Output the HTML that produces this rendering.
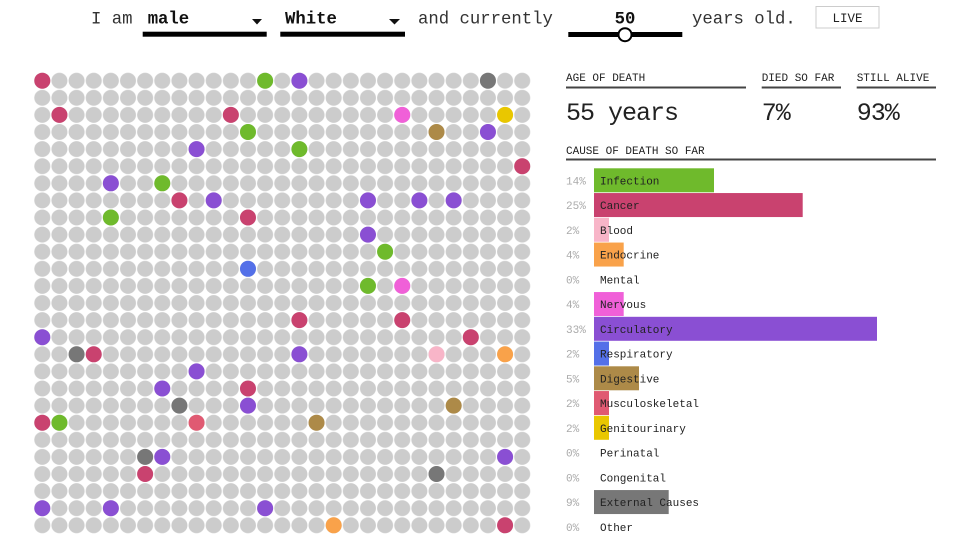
<!DOCTYPE html>
<html>
<head>
<meta charset="utf-8">
<style>
  html,body{margin:0;padding:0;background:#fff;}
  svg{display:block;}
  text{font-family:"Liberation Mono",monospace;}
</style>
</head>
<body>
<svg width="962" height="550" viewBox="0 0 962 550" xmlns="http://www.w3.org/2000/svg">
  <defs>
    <pattern id="dots" patternUnits="userSpaceOnUse" x="33.73" y="72.15" width="17.14" height="17.1">
      <circle cx="8.57" cy="8.55" r="8" fill="#cccccc"/>
    </pattern>
  </defs>
  <rect x="0" y="0" width="962" height="550" fill="#fff"/>

  <!-- Top controls -->
  <text x="91" y="23.3" font-size="17.3" fill="#333">I am</text>
  <text x="147.7" y="23.3" font-size="17.3" font-weight="bold" fill="#111">male</text>
  <polygon points="252,19 262,19 257,24.5" fill="#111"/>
  <rect x="142.7" y="31.7" width="124" height="5" fill="#000"/>
  <text x="285" y="23.3" font-size="17.3" font-weight="bold" fill="#111">White</text>
  <polygon points="389,19 400,19 394.5,24.5" fill="#111"/>
  <rect x="280.3" y="31.7" width="124.7" height="5" fill="#000"/>
  <text x="418" y="23.3" font-size="17.3" fill="#333">and currently</text>
  <text x="625" y="23.3" font-size="17.3" font-weight="bold" fill="#111" text-anchor="middle">50</text>
  <rect x="568.3" y="32" width="114" height="5" fill="#000"/>
  <circle cx="625" cy="34.7" r="6.5" fill="#fff" stroke="#000" stroke-width="2"/>
  <text x="692" y="23.3" font-size="17.3" fill="#333">years old.</text>
  <rect x="816" y="6.5" width="63" height="21.5" fill="#fff" stroke="#ccc" stroke-width="1"/>
  <text x="847.5" y="22" font-size="12.5" fill="#222" text-anchor="middle">LIVE</text>

  <!-- Dot grid -->
  <rect x="33.73" y="72.15" width="497.06" height="461.7" fill="url(#dots)"/>
  <g transform="translate(42.3,80.7)">
    <!-- row 0 -->
    <circle cx="0" cy="0" r="8" fill="#c9426f"/>
    <circle cx="222.82" cy="0" r="8" fill="#6fba2c"/>
    <circle cx="257.1" cy="0" r="8" fill="#8a4fd3"/>
    <circle cx="445.64" cy="0" r="8" fill="#777777"/>
    <!-- row 2 -->
    <circle cx="17.14" cy="34.2" r="8" fill="#c9426f"/>
    <circle cx="188.54" cy="34.2" r="8" fill="#c9426f"/>
    <circle cx="359.94" cy="34.2" r="8" fill="#f060d8"/>
    <circle cx="462.78" cy="34.2" r="8" fill="#e9c700"/>
    <!-- row 3 -->
    <circle cx="205.68" cy="51.3" r="8" fill="#6fba2c"/>
    <circle cx="394.22" cy="51.3" r="8" fill="#ad8a48"/>
    <circle cx="445.64" cy="51.3" r="8" fill="#8a4fd3"/>
    <!-- row 4 -->
    <circle cx="154.26" cy="68.4" r="8" fill="#8a4fd3"/>
    <circle cx="257.1" cy="68.4" r="8" fill="#6fba2c"/>
    <!-- row 5 -->
    <circle cx="479.92" cy="85.5" r="8" fill="#c9426f"/>
    <!-- row 6 -->
    <circle cx="68.56" cy="102.6" r="8" fill="#8a4fd3"/>
    <circle cx="119.98" cy="102.6" r="8" fill="#6fba2c"/>
    <!-- row 7 -->
    <circle cx="137.12" cy="119.7" r="8" fill="#c9426f"/>
    <circle cx="171.4" cy="119.7" r="8" fill="#8a4fd3"/>
    <circle cx="325.66" cy="119.7" r="8" fill="#8a4fd3"/>
    <circle cx="377.08" cy="119.7" r="8" fill="#8a4fd3"/>
    <circle cx="411.36" cy="119.7" r="8" fill="#8a4fd3"/>
    <!-- row 8 -->
    <circle cx="68.56" cy="136.8" r="8" fill="#6fba2c"/>
    <circle cx="205.68" cy="136.8" r="8" fill="#c9426f"/>
    <!-- row 9 -->
    <circle cx="325.66" cy="153.9" r="8" fill="#8a4fd3"/>
    <!-- row 10 -->
    <circle cx="342.8" cy="171" r="8" fill="#6fba2c"/>
    <!-- row 11 -->
    <circle cx="205.68" cy="188.1" r="8" fill="#5470e8"/>
    <!-- row 12 -->
    <circle cx="325.66" cy="205.2" r="8" fill="#6fba2c"/>
    <circle cx="359.94" cy="205.2" r="8" fill="#f060d8"/>
    <!-- row 14 -->
    <circle cx="257.1" cy="239.4" r="8" fill="#c9426f"/>
    <circle cx="359.94" cy="239.4" r="8" fill="#c9426f"/>
    <!-- row 15 -->
    <circle cx="0" cy="256.5" r="8" fill="#8a4fd3"/>
    <circle cx="428.5" cy="256.5" r="8" fill="#c9426f"/>
    <!-- row 16 -->
    <circle cx="34.28" cy="273.6" r="8" fill="#777777"/>
    <circle cx="51.42" cy="273.6" r="8" fill="#c9426f"/>
    <circle cx="257.1" cy="273.6" r="8" fill="#8a4fd3"/>
    <circle cx="394.22" cy="273.6" r="8" fill="#f8b5c8"/>
    <circle cx="462.78" cy="273.6" r="8" fill="#f9a24a"/>
    <!-- row 17 -->
    <circle cx="154.26" cy="290.7" r="8" fill="#8a4fd3"/>
    <!-- row 18 -->
    <circle cx="119.98" cy="307.8" r="8" fill="#8a4fd3"/>
    <circle cx="205.68" cy="307.8" r="8" fill="#c9426f"/>
    <!-- row 19 -->
    <circle cx="137.12" cy="324.9" r="8" fill="#777777"/>
    <circle cx="205.68" cy="324.9" r="8" fill="#8a4fd3"/>
    <circle cx="411.36" cy="324.9" r="8" fill="#ad8a48"/>
    <!-- row 20 -->
    <circle cx="0" cy="342" r="8" fill="#c9426f"/>
    <circle cx="17.14" cy="342" r="8" fill="#6fba2c"/>
    <circle cx="154.26" cy="342" r="8" fill="#e05a72"/>
    <circle cx="274.24" cy="342" r="8" fill="#ad8a48"/>
    <!-- row 22 -->
    <circle cx="102.84" cy="376.2" r="8" fill="#777777"/>
    <circle cx="119.98" cy="376.2" r="8" fill="#8a4fd3"/>
    <circle cx="462.78" cy="376.2" r="8" fill="#8a4fd3"/>
    <!-- row 23 -->
    <circle cx="102.84" cy="393.3" r="8" fill="#c9426f"/>
    <circle cx="394.22" cy="393.3" r="8" fill="#777777"/>
    <!-- row 25 -->
    <circle cx="0" cy="427.5" r="8" fill="#8a4fd3"/>
    <circle cx="68.56" cy="427.5" r="8" fill="#8a4fd3"/>
    <circle cx="222.82" cy="427.5" r="8" fill="#8a4fd3"/>
    <!-- row 26 -->
    <circle cx="291.38" cy="444.6" r="8" fill="#f9a24a"/>
    <circle cx="462.78" cy="444.6" r="8" fill="#c9426f"/>
  </g>

  <!-- Stats header -->
  <text x="566" y="81" font-size="11" fill="#222">AGE OF DEATH</text>
  <text x="761.7" y="81" font-size="11" fill="#222">DIED SO FAR</text>
  <text x="856.7" y="81" font-size="11" fill="#222">STILL ALIVE</text>
  <rect x="566" y="86.5" width="180" height="2" fill="#444"/>
  <rect x="761.7" y="86.5" width="79.3" height="2" fill="#444"/>
  <rect x="856.7" y="86.5" width="79.3" height="2" fill="#444"/>
  <text x="566" y="120" font-size="25" letter-spacing="-1" fill="#222">55 years</text>
  <text x="761.7" y="120" font-size="25" letter-spacing="-1" fill="#222">7%</text>
  <text x="856.7" y="120" font-size="25" letter-spacing="-1" fill="#222">93%</text>

  <text x="566" y="154" font-size="11" fill="#222">CAUSE OF DEATH SO FAR</text>
  <rect x="566" y="158.5" width="370" height="2" fill="#444"/>

  <!-- Bars -->
  <g>
    <rect x="594" y="168.3" width="120" height="24" fill="#6fba2c"/>
    <rect x="594" y="193.05" width="208.7" height="24" fill="#c9426f"/>
    <rect x="594" y="217.8" width="15" height="24" fill="#f8b5c8"/>
    <rect x="594" y="242.55" width="29.7" height="24" fill="#f9a24a"/>
    <rect x="594" y="292.05" width="29.7" height="24" fill="#f060d8"/>
    <rect x="594" y="316.8" width="283" height="24" fill="#8a4fd3"/>
    <rect x="594" y="341.55" width="15" height="24" fill="#5470e8"/>
    <rect x="594" y="366.3" width="45" height="24" fill="#ad8a48"/>
    <rect x="594" y="391.05" width="15" height="24" fill="#e05a72"/>
    <rect x="594" y="415.8" width="15" height="24" fill="#e9c700"/>
    <rect x="594" y="490.05" width="74.7" height="24" fill="#777777"/>
  </g>
  <g font-size="11" fill="#aaa">
    <text x="566" y="184.3">14%</text>
    <text x="566" y="209.05">25%</text>
    <text x="566" y="233.8">2%</text>
    <text x="566" y="258.55">4%</text>
    <text x="566" y="283.3">0%</text>
    <text x="566" y="308.05">4%</text>
    <text x="566" y="332.8">33%</text>
    <text x="566" y="357.55">2%</text>
    <text x="566" y="382.3">5%</text>
    <text x="566" y="407.05">2%</text>
    <text x="566" y="431.8">2%</text>
    <text x="566" y="456.55">0%</text>
    <text x="566" y="481.3">0%</text>
    <text x="566" y="506.05">9%</text>
    <text x="566" y="530.8">0%</text>
  </g>
  <g font-size="11" fill="#222">
    <text x="600" y="184.3">Infection</text>
    <text x="600" y="209.05">Cancer</text>
    <text x="600" y="233.8">Blood</text>
    <text x="600" y="258.55">Endocrine</text>
    <text x="600" y="283.3">Mental</text>
    <text x="600" y="308.05">Nervous</text>
    <text x="600" y="332.8">Circulatory</text>
    <text x="600" y="357.55">Respiratory</text>
    <text x="600" y="382.3">Digestive</text>
    <text x="600" y="407.05">Musculoskeletal</text>
    <text x="600" y="431.8">Genitourinary</text>
    <text x="600" y="456.55">Perinatal</text>
    <text x="600" y="481.3">Congenital</text>
    <text x="600" y="506.05">External Causes</text>
    <text x="600" y="530.8">Other</text>
  </g>
</svg>
</body>
</html>
